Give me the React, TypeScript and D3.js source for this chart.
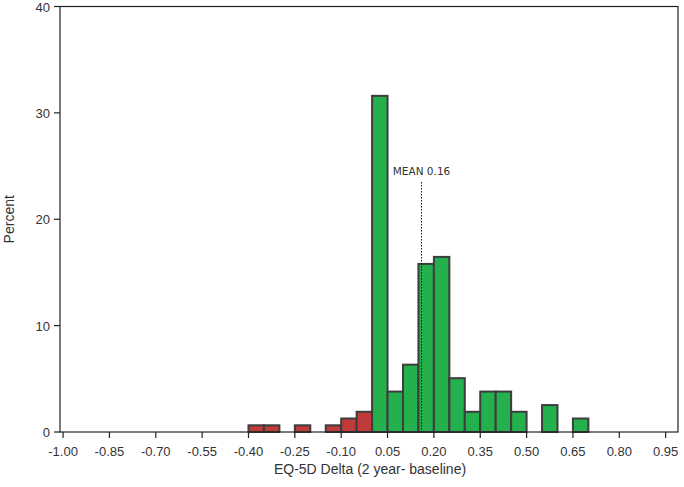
import React from 'react';
import * as d3 from 'd3';

// histogram bins (left edge) and percent of patients
const binStarts = [-0.4, -0.35, -0.25, -0.15, -0.1, -0.05, 0.0, 0.05, 0.1, 0.15, 0.2, 0.25, 0.3, 0.35, 0.4, 0.45, 0.55, 0.65];
const percents = [0.63, 0.63, 0.63, 0.63, 1.27, 1.9, 31.6, 3.8, 6.33, 15.8, 16.46, 5.06, 1.9, 3.8, 3.8, 1.9, 2.53, 1.27];
const binWidth = 0.05;
const xTicks = [-1.0, -0.85, -0.7, -0.55, -0.4, -0.25, -0.1, 0.05, 0.2, 0.35, 0.5, 0.65, 0.8, 0.95];
const yTicks = [0, 10, 20, 30, 40];
const meanValue = 0.16;

const W = 684;
const H = 487;
const margin = { top: 6.5, right: 6, bottom: 55, left: 60 };

export default function App() {
  const x = d3.scaleLinear().domain([-1.01, 0.99]).range([margin.left, W - margin.right]);
  const y = d3.scaleLinear().domain([0, 40]).range([H - margin.bottom, margin.top]);
  const font = '"Liberation Sans", Arial, sans-serif';
  const textCol = '#333';

  return (
    <svg width={W} height={H} style={{ position: 'absolute', left: 0, top: 0, background: '#fff' }}>
      {/* bars */}
      {binStarts.map((b, i) => (
        <rect
          key={i}
          x={x(b)}
          y={y(percents[i])}
          width={x(b + binWidth) - x(b)}
          height={y(0) - y(percents[i])}
          fill={b < 0 ? '#c03a3a' : '#24b04c'}
          stroke="#3d3d3d"
          strokeWidth={2}
        />
      ))}

      {/* mean line */}
      <line
        x1={x(meanValue)}
        x2={x(meanValue)}
        y1={y(23.5)}
        y2={y(0)}
        stroke="#111"
        strokeWidth={1}
        strokeDasharray="1.5,1.5"
      />
      <text
        x={x(meanValue)}
        y={y(24.2)}
        textAnchor="middle"
        fontFamily='"DejaVu Sans", Verdana, sans-serif'
        fontSize={10.5}
        fill="#333"
      >
        MEAN {meanValue.toFixed(2)}
      </text>

      {/* frame */}
      <rect
        x={margin.left}
        y={margin.top}
        width={W - margin.right - margin.left}
        height={y(0) - margin.top}
        fill="none"
        stroke="#222"
        strokeWidth={1.2}
      />

      {/* x axis */}
      {xTicks.map((t) => (
        <g key={t}>
          <line x1={x(t)} x2={x(t)} y1={y(0)} y2={y(0) + 6} stroke="#222" strokeWidth={1.2} />
          <text x={x(t)} y={y(0) + 24} textAnchor="middle" fontFamily={font} fontSize={13} fill={textCol}>
            {t.toFixed(2)}
          </text>
        </g>
      ))}
      <text x={370} y={474} textAnchor="middle" fontFamily={font} fontSize={14} fill={textCol}>
        EQ-5D Delta (2 year- baseline)
      </text>

      {/* y axis */}
      {yTicks.map((t) => (
        <g key={t}>
          <line x1={margin.left - 6} x2={margin.left} y1={y(t)} y2={y(t)} stroke="#222" strokeWidth={1.2} />
          <text x={margin.left - 10} y={y(t) + 5} textAnchor="end" fontFamily={font} fontSize={13} fill={textCol}>
            {t}
          </text>
        </g>
      ))}
      <text
        transform={`translate(14,${(margin.top + y(0)) / 2}) rotate(-90)`}
        textAnchor="middle"
        fontFamily={font}
        fontSize={14}
        fill={textCol}
      >
        Percent
      </text>
    </svg>
  );
}
